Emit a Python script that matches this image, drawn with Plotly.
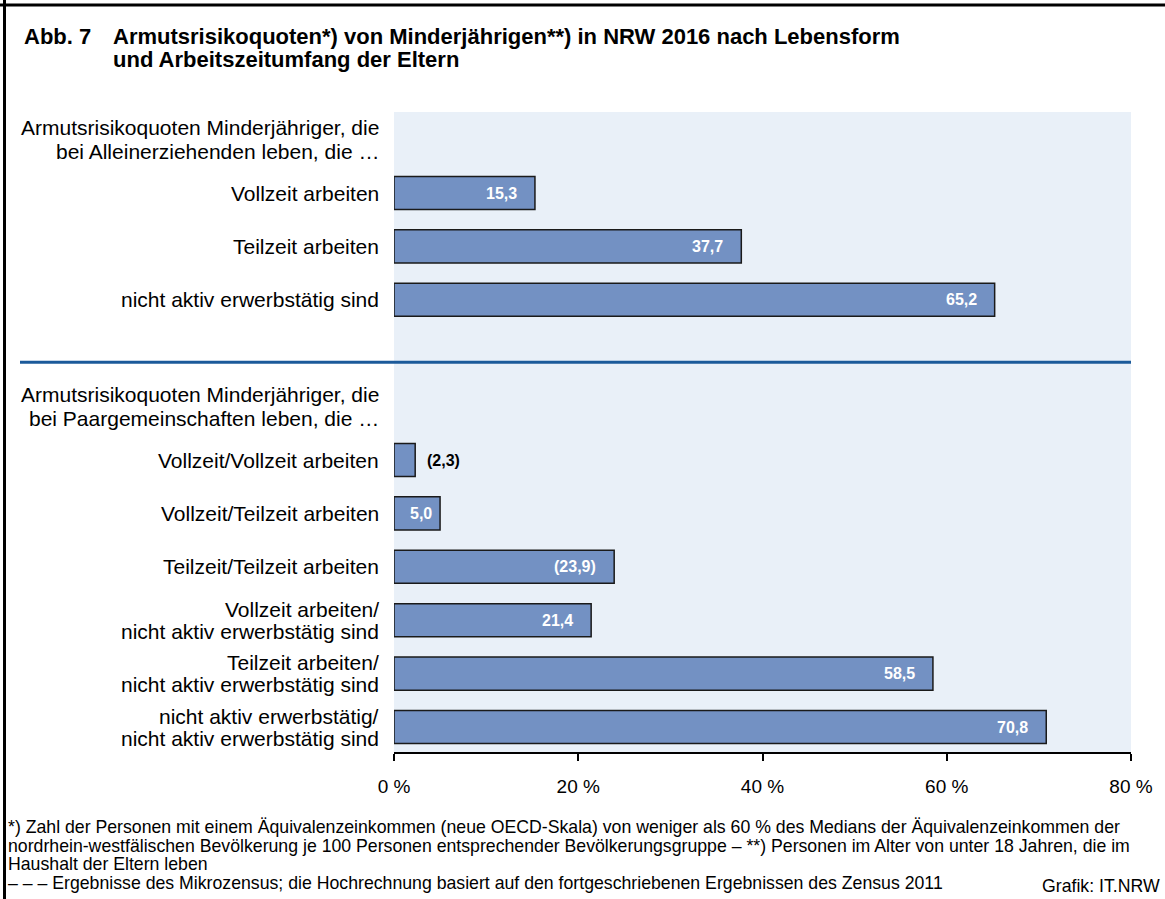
import plotly.graph_objects as go

# ---------------- data ----------------
title_prefix = "Abb. 7"
title_line1 = "Armutsrisikoquoten*) von Minderjährigen**) in NRW 2016 nach Lebensform"
title_line2 = "und Arbeitszeitumfang der Eltern"

group1_title = ["Armutsrisikoquoten Minderjähriger, die", "bei Alleinerziehenden leben, die …"]
group1_labels = ["Vollzeit arbeiten", "Teilzeit arbeiten", "nicht aktiv erwerbstätig sind"]
group1_values = [15.3, 37.7, 65.2]
group1_bracketed = [False, False, False]

group2_title = ["Armutsrisikoquoten Minderjähriger, die", "bei Paargemeinschaften leben, die …"]
group2_labels = [
    "Vollzeit/Vollzeit arbeiten",
    "Vollzeit/Teilzeit arbeiten",
    "Teilzeit/Teilzeit arbeiten",
    "Vollzeit arbeiten/\nnicht aktiv erwerbstätig sind",
    "Teilzeit arbeiten/\nnicht aktiv erwerbstätig sind",
    "nicht aktiv erwerbstätig/\nnicht aktiv erwerbstätig sind",
]
group2_values = [2.3, 5.0, 23.9, 21.4, 58.5, 70.8]
group2_bracketed = [True, False, True, False, False, False]

x_ticks = [0, 20, 40, 60, 80]
x_ticktext = ["0 %", "20 %", "40 %", "60 %", "80 %"]

footnotes = [
    "*) Zahl der Personen mit einem Äquivalenzeinkommen (neue OECD-Skala) von weniger als 60 % des Medians der Äquivalenzeinkommen der",
    "nordrhein-westfälischen Bevölkerung je 100 Personen entsprechender Bevölkerungsgruppe – **) Personen im Alter von unter 18 Jahren, die im",
    "Haushalt der Eltern leben",
    "– – – Ergebnisse des Mikrozensus; die Hochrechnung basiert auf den fortgeschriebenen Ergebnissen des Zensus 2011",
]
source = "Grafik: IT.NRW"

# ---------------- layout constants ----------------
W, H = 1165, 899
ML, MR, MT, MB = 394, 34, 112, 147
PW, PH = W - ML - MR, H - MT - MB
FONT = "Liberation Sans, Arial, Helvetica, sans-serif"
BAR_COLOR = "#7391c3"
BG_COLOR = "#e9f0f8"
SEP_COLOR = "#1b5a9a"


def px_x(px):
    return (px - ML) / PW


def px_y(py):
    return (H - MB - py) / PH


# slot positions: group title slot, then one slot per bar; a gap slot between groups
g1_title_pos = 0
g1_pos = [g1_title_pos + 1 + i for i in range(len(group1_values))]
g2_title_pos = g1_pos[-1] + 2
g2_pos = [g2_title_pos + 1 + i for i in range(len(group2_values))]
sep_pos = g1_pos[-1] + 1.17

positions = g1_pos + g2_pos
values = group1_values + group2_values
labels = group1_labels + group2_labels
bracketed = group1_bracketed + group2_bracketed

fig = go.Figure()
fig.add_trace(go.Bar(
    x=values, y=positions, orientation="h", width=0.62,
    marker=dict(color=BAR_COLOR, line=dict(color="#1a1a1a", width=1.5)),
    hoverinfo="skip", showlegend=False,
))

annotations = []

# category labels
for pos, lab in zip(positions, labels):
    lines = lab.split("\n")
    n = len(lines)
    for k, line in enumerate(lines):
        annotations.append(dict(
            xref="paper", yref="y", x=0, y=pos, xanchor="right", yanchor="middle",
            xshift=-13, yshift=(n - 1) * 11 - k * 22,
            text=line, showarrow=False, font=dict(family=FONT, size=21, color="#000"),
        ))

# group titles
for tpos, tlines in [(g1_title_pos, group1_title), (g2_title_pos, group2_title)]:
    for k, line in enumerate(tlines):
        annotations.append(dict(
            xref="paper", yref="y", x=0, y=tpos, xanchor="right", yanchor="middle",
            xshift=-13, yshift=12 - k * 24,
            text=line, showarrow=False, font=dict(family=FONT, size=21, color="#000"),
        ))

# value labels
for pos, v, br in zip(positions, values, bracketed):
    txt = f"{v:.1f}".replace(".", ",")
    if br:
        txt = f"({txt})"
    if v < 3:
        annotations.append(dict(
            x=v, y=pos, xref="x", yref="y", xanchor="left", yanchor="middle", xshift=10,
            text=f"<b>{txt}</b>", showarrow=False, font=dict(family=FONT, size=16, color="#000"),
        ))
    else:
        annotations.append(dict(
            x=v, y=pos, xref="x", yref="y", xanchor="right", yanchor="middle",
            xshift=-6 if v < 10 else -16,
            text=f"<b>{txt}</b>", showarrow=False, font=dict(family=FONT, size=16, color="#fff"),
        ))

# title
annotations.append(dict(xref="paper", yref="paper", x=px_x(22), y=px_y(36), xanchor="left",
                        yanchor="middle", text=f"<b>{title_prefix}</b>", showarrow=False,
                        font=dict(family=FONT, size=22, color="#000")))
annotations.append(dict(xref="paper", yref="paper", x=px_x(111), y=px_y(36), xanchor="left",
                        yanchor="middle", text=f"<b>{title_line1}</b>", showarrow=False,
                        font=dict(family=FONT, size=22, color="#000")))
annotations.append(dict(xref="paper", yref="paper", x=px_x(111), y=px_y(60), xanchor="left",
                        yanchor="middle", text=f"<b>{title_line2}</b>", showarrow=False,
                        font=dict(family=FONT, size=22, color="#000")))

# footnotes
for k, line in enumerate(footnotes):
    annotations.append(dict(xref="paper", yref="paper", x=px_x(6), y=px_y(827 + 18.5 * k),
                            xanchor="left", yanchor="middle", text=line, showarrow=False,
                            font=dict(family=FONT, size=17.7, color="#000")))
annotations.append(dict(xref="paper", yref="paper", x=px_x(1162), y=px_y(886),
                        xanchor="right", yanchor="middle", text=source, showarrow=False,
                        font=dict(family=FONT, size=17.7, color="#000")))

shapes = [
    # separator line between groups
    dict(type="line", xref="paper", yref="y", x0=px_x(20), x1=1, y0=sep_pos, y1=sep_pos,
         line=dict(color=SEP_COLOR, width=3)),
    # frame: top and left
    dict(type="line", xref="paper", yref="paper", x0=px_x(0), x1=px_x(W), y0=px_y(5), y1=px_y(5),
         line=dict(color="#000", width=3)),
    dict(type="line", xref="paper", yref="paper", x0=px_x(4.5), x1=px_x(4.5), y0=px_y(0), y1=px_y(H),
         line=dict(color="#000", width=3)),
]

top_slot = g1_pos[0] + (MT - 193) / 53.4
bot_slot = g1_pos[0] + (H - MB - 193) / 53.4

fig.update_layout(
    width=W, height=H,
    margin=dict(l=ML, r=MR, t=MT, b=MB, pad=0),
    paper_bgcolor="#fff", plot_bgcolor=BG_COLOR,
    font=dict(family=FONT, size=19, color="#000"),
    bargap=0,
    xaxis=dict(range=[0, 80], tickvals=x_ticks, ticktext=x_ticktext, ticks="outside",
               ticklen=7, tickwidth=2, tickcolor="#000", showline=True, linecolor="#000",
               linewidth=2, showgrid=False, zeroline=False, fixedrange=True,
               ticklabelstandoff=9,
               tickfont=dict(family=FONT, size=19, color="#000")),
    yaxis=dict(range=[bot_slot, top_slot], showticklabels=False, showgrid=False,
               zeroline=False, ticks="", showline=False, fixedrange=True),
    annotations=annotations,
    shapes=shapes,
)

fig.write_html(
    "out.html",
    config={"displayModeBar": False, "staticPlot": True},
    post_script="document.body.style.margin='0';document.body.style.overflow='hidden';"
                "document.documentElement.style.overflow='hidden';",
)
